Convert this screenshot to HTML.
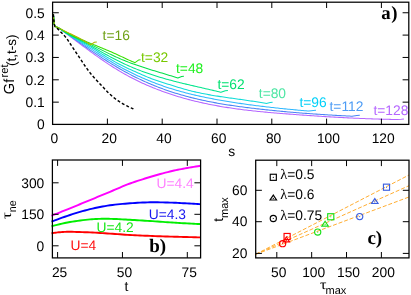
<!DOCTYPE html>
<html><head><meta charset="utf-8"><title>fig</title>
<style>
html,body{margin:0;padding:0;background:#fff;}
body{width:411px;height:295px;overflow:hidden;font-family:"Liberation Sans",sans-serif;}
svg{display:block;will-change:transform;opacity:0.999;text-rendering:geometricPrecision;}
</style></head><body>
<svg width="411" height="295" viewBox="0 0 411 295">
<rect x="0" y="0" width="411" height="295" fill="#fff"/>
<path d="M53.40,14.20 L53.90,21.00 L54.20,24.00 L54.80,26.00 L56.00,26.70 L60.00,28.89 L61.50,30.00 L63.00,31.12 L64.50,32.24 L66.00,33.36 L67.50,34.49 L69.00,35.61 L70.50,36.74 L72.00,37.86 L73.50,38.99 L75.00,40.12 L76.50,41.24 L78.00,42.37 L79.50,43.49 L81.00,44.61 L82.50,45.73 L84.00,46.84 L85.50,47.95 L87.00,49.05 L88.50,50.15 L90.00,51.25 L91.50,52.34 L93.00,53.42 L94.50,54.50 L96.00,55.57 L97.50,56.64 L99.00,57.69 L100.50,58.74 L102.00,59.78 L103.50,60.80 L105.00,61.82 L106.50,62.83 L108.00,63.83 L109.50,64.82 L111.00,65.79 L112.50,66.76 L114.00,67.71 L115.50,68.64 L117.00,69.57 L118.50,70.48 L120.00,71.38 L121.50,72.26 L123.00,73.12 L124.50,73.98 L126.00,74.81 L127.50,75.64 L129.00,76.45 L130.50,77.24 L132.00,78.03 L133.50,78.80 L135.00,79.55 L136.50,80.30 L138.00,81.03 L139.50,81.75 L141.00,82.45 L142.50,83.15 L144.00,83.83 L145.50,84.50 L147.00,85.16 L148.50,85.81 L150.00,86.44 L151.50,87.07 L153.00,87.68 L154.50,88.29 L156.00,88.88 L157.50,89.47 L159.00,90.04 L160.50,90.61 L162.00,91.16 L163.50,91.70 L165.00,92.24 L166.50,92.77 L168.00,93.28 L169.50,93.79 L171.00,94.29 L172.50,94.78 L174.00,95.26 L175.50,95.74 L177.00,96.20 L178.50,96.66 L180.00,97.10 L181.50,97.54 L183.00,97.98 L184.50,98.40 L186.00,98.81 L187.50,99.22 L189.00,99.62 L190.50,100.01 L192.00,100.40 L193.50,100.77 L195.00,101.14 L196.50,101.51 L198.00,101.86 L199.50,102.21 L201.00,102.55 L202.50,102.88 L204.00,103.21 L205.50,103.53 L207.00,103.85 L208.50,104.16 L210.00,104.46 L211.50,104.75 L213.00,105.04 L214.50,105.33 L216.00,105.60 L217.50,105.88 L219.00,106.14 L220.50,106.40 L222.00,106.66 L223.50,106.91 L225.00,107.15 L226.50,107.39 L228.00,107.63 L229.50,107.85 L231.00,108.08 L232.50,108.30 L234.00,108.51 L235.50,108.72 L237.00,108.93 L238.50,109.13 L240.00,109.33 L241.50,109.52 L243.00,109.71 L244.50,109.90 L246.00,110.08 L247.50,110.25 L249.00,110.43 L250.50,110.60 L252.00,110.76 L253.50,110.93 L255.00,111.09 L256.50,111.25 L258.00,111.40 L259.50,111.55 L261.00,111.70 L262.50,111.85 L264.00,111.99 L265.50,112.13 L267.00,112.27 L268.50,112.40 L270.00,112.54 L271.50,112.67 L273.00,112.80 L274.50,112.92 L276.00,113.05 L277.50,113.17 L279.00,113.30 L280.50,113.42 L282.00,113.54 L283.50,113.66 L285.00,113.77 L286.50,113.89 L288.00,114.01 L289.50,114.12 L291.00,114.23 L292.50,114.35 L294.00,114.46 L295.50,114.57 L297.00,114.68 L298.50,114.79 L300.00,114.90 L301.50,115.01 L303.00,115.11 L304.50,115.22 L306.00,115.32 L307.50,115.43 L309.00,115.53 L310.50,115.64 L312.00,115.74 L313.50,115.84 L315.00,115.94 L316.50,116.04 L318.00,116.13 L319.50,116.23 L321.00,116.33 L322.50,116.42 L324.00,116.52 L325.50,116.61 L327.00,116.70 L328.50,116.79 L330.00,116.88 L331.50,116.97 L333.00,117.05 L334.50,117.14 L336.00,117.23 L337.50,117.31 L339.00,117.39 L340.50,117.47 L342.00,117.55 L343.50,117.63 L345.00,117.71 L346.50,117.78 L348.00,117.86 L349.50,117.93 L351.00,118.00 L352.50,118.08 L354.00,118.15 L355.50,118.21 L357.00,118.28 L358.50,118.35 L360.00,118.41 L361.50,118.47 L363.00,118.53 L364.50,118.59 L366.00,118.65 L367.50,118.71 L369.00,118.76 L370.50,118.82 L372.00,118.87 L373.50,118.92 L375.00,118.97 L376.50,119.02 L378.00,119.06 L379.50,119.11 L381.00,119.15 L382.50,119.19 L384.00,119.23 L385.50,119.27 L387.00,119.30 L388.50,119.34 L390.00,119.37 L391.50,119.40 L393.00,119.43 L394.50,119.46 L396.00,119.48 L397.00,119.50 L401.34,119.30 L404.00,119.00" fill="none" stroke="#b566ff" stroke-width="1.05" stroke-linejoin="round" />
<path d="M53.40,14.20 L53.90,21.00 L54.20,24.00 L54.80,26.00 L56.00,26.70 L60.00,28.80 L61.50,29.85 L63.00,30.91 L64.50,31.96 L66.00,33.02 L67.50,34.08 L69.00,35.14 L70.50,36.20 L72.00,37.26 L73.50,38.32 L75.00,39.38 L76.50,40.44 L78.00,41.49 L79.50,42.55 L81.00,43.60 L82.50,44.65 L84.00,45.69 L85.50,46.74 L87.00,47.78 L88.50,48.81 L90.00,49.84 L91.50,50.87 L93.00,51.89 L94.50,52.90 L96.00,53.91 L97.50,54.91 L99.00,55.91 L100.50,56.89 L102.00,57.88 L103.50,58.85 L105.00,59.81 L106.50,60.77 L108.00,61.71 L109.50,62.65 L111.00,63.58 L112.50,64.50 L114.00,65.40 L115.50,66.30 L117.00,67.18 L118.50,68.06 L120.00,68.92 L121.50,69.77 L123.00,70.61 L124.50,71.44 L126.00,72.26 L127.50,73.06 L129.00,73.86 L130.50,74.64 L132.00,75.42 L133.50,76.18 L135.00,76.93 L136.50,77.67 L138.00,78.40 L139.50,79.12 L141.00,79.82 L142.50,80.52 L144.00,81.21 L145.50,81.88 L147.00,82.54 L148.50,83.19 L150.00,83.83 L151.50,84.46 L153.00,85.08 L154.50,85.69 L156.00,86.29 L157.50,86.87 L159.00,87.45 L160.50,88.02 L162.00,88.57 L163.50,89.12 L165.00,89.65 L166.50,90.18 L168.00,90.69 L169.50,91.20 L171.00,91.70 L172.50,92.19 L174.00,92.67 L175.50,93.14 L177.00,93.60 L178.50,94.05 L180.00,94.49 L181.50,94.93 L183.00,95.36 L184.50,95.77 L186.00,96.18 L187.50,96.59 L189.00,96.98 L190.50,97.37 L192.00,97.75 L193.50,98.12 L195.00,98.49 L196.50,98.84 L198.00,99.19 L199.50,99.54 L201.00,99.87 L202.50,100.20 L204.00,100.53 L205.50,100.84 L207.00,101.15 L208.50,101.46 L210.00,101.76 L211.50,102.05 L213.00,102.34 L214.50,102.62 L216.00,102.89 L217.50,103.16 L219.00,103.43 L220.50,103.69 L222.00,103.94 L223.50,104.19 L225.00,104.43 L226.50,104.67 L228.00,104.91 L229.50,105.14 L231.00,105.37 L232.50,105.59 L234.00,105.81 L235.50,106.03 L237.00,106.24 L238.50,106.44 L240.00,106.65 L241.50,106.85 L243.00,107.05 L244.50,107.24 L246.00,107.43 L247.50,107.62 L249.00,107.81 L250.50,107.99 L252.00,108.17 L253.50,108.35 L255.00,108.53 L256.50,108.70 L258.00,108.87 L259.50,109.04 L261.00,109.21 L262.50,109.38 L264.00,109.54 L265.50,109.70 L267.00,109.86 L268.50,110.02 L270.00,110.18 L271.50,110.33 L273.00,110.48 L274.50,110.63 L276.00,110.78 L277.50,110.93 L279.00,111.07 L280.50,111.22 L282.00,111.36 L283.50,111.50 L285.00,111.63 L286.50,111.77 L288.00,111.90 L289.50,112.04 L291.00,112.17 L292.50,112.30 L294.00,112.42 L295.50,112.55 L297.00,112.67 L298.50,112.79 L300.00,112.91 L301.50,113.03 L303.00,113.15 L304.50,113.27 L306.00,113.38 L307.50,113.49 L309.00,113.60 L310.50,113.71 L312.00,113.82 L313.50,113.93 L315.00,114.03 L316.50,114.14 L318.00,114.24 L319.50,114.34 L321.00,114.44 L322.50,114.54 L324.00,114.63 L325.50,114.73 L327.00,114.82 L328.50,114.91 L330.00,115.01 L331.50,115.10 L333.00,115.18 L334.50,115.27 L336.00,115.36 L337.50,115.44 L339.00,115.53 L340.50,115.61 L342.00,115.69 L343.50,115.77 L345.00,115.85 L346.50,115.92 L348.00,116.00 L349.50,116.08 L351.00,116.15 L352.00,116.20 L356.84,115.60 L359.80,115.30" fill="none" stroke="#4a84f5" stroke-width="1.05" stroke-linejoin="round" />
<path d="M53.40,14.20 L53.90,21.00 L54.20,24.00 L54.80,26.00 L56.00,26.70 L60.00,28.81 L61.50,29.87 L63.00,30.91 L64.50,31.93 L66.00,32.94 L67.50,33.93 L69.00,34.91 L70.50,35.88 L72.00,36.84 L73.50,37.80 L75.00,38.74 L76.50,39.69 L78.00,40.62 L79.50,41.56 L81.00,42.50 L82.50,43.44 L84.00,44.38 L85.50,45.33 L87.00,46.29 L88.50,47.25 L90.00,48.21 L91.50,49.18 L93.00,50.15 L94.50,51.12 L96.00,52.09 L97.50,53.06 L99.00,54.03 L100.50,54.99 L102.00,55.95 L103.50,56.91 L105.00,57.86 L106.50,58.80 L108.00,59.73 L109.50,60.66 L111.00,61.57 L112.50,62.48 L114.00,63.37 L115.50,64.25 L117.00,65.12 L118.50,65.97 L120.00,66.81 L121.50,67.63 L123.00,68.44 L124.50,69.24 L126.00,70.03 L127.50,70.81 L129.00,71.57 L130.50,72.32 L132.00,73.06 L133.50,73.79 L135.00,74.50 L136.50,75.21 L138.00,75.90 L139.50,76.59 L141.00,77.26 L142.50,77.92 L144.00,78.58 L145.50,79.22 L147.00,79.85 L148.50,80.47 L150.00,81.08 L151.50,81.68 L153.00,82.27 L154.50,82.85 L156.00,83.43 L157.50,83.99 L159.00,84.54 L160.50,85.08 L162.00,85.61 L163.50,86.14 L165.00,86.65 L166.50,87.15 L168.00,87.65 L169.50,88.13 L171.00,88.61 L172.50,89.08 L174.00,89.54 L175.50,89.99 L177.00,90.43 L178.50,90.86 L180.00,91.29 L181.50,91.70 L183.00,92.11 L184.50,92.51 L186.00,92.91 L187.50,93.29 L189.00,93.67 L190.50,94.04 L192.00,94.41 L193.50,94.76 L195.00,95.12 L196.50,95.46 L198.00,95.80 L199.50,96.13 L201.00,96.46 L202.50,96.78 L204.00,97.10 L205.50,97.41 L207.00,97.71 L208.50,98.01 L210.00,98.31 L211.50,98.60 L213.00,98.89 L214.50,99.17 L216.00,99.44 L217.50,99.72 L219.00,99.99 L220.50,100.25 L222.00,100.51 L223.50,100.77 L225.00,101.03 L226.50,101.28 L228.00,101.53 L229.50,101.77 L231.00,102.01 L232.50,102.25 L234.00,102.49 L235.50,102.72 L237.00,102.95 L238.50,103.17 L240.00,103.39 L241.50,103.61 L243.00,103.83 L244.50,104.04 L246.00,104.25 L247.50,104.46 L249.00,104.67 L250.50,104.87 L252.00,105.07 L253.50,105.27 L255.00,105.46 L256.50,105.65 L258.00,105.84 L259.50,106.03 L261.00,106.21 L262.50,106.39 L264.00,106.57 L265.50,106.75 L267.00,106.93 L268.50,107.10 L270.00,107.27 L271.50,107.44 L273.00,107.60 L274.50,107.77 L276.00,107.93 L277.50,108.09 L279.00,108.25 L280.50,108.41 L282.00,108.56 L283.50,108.72 L285.00,108.87 L286.50,109.02 L288.00,109.17 L289.50,109.31 L291.00,109.46 L292.50,109.60 L294.00,109.75 L295.50,109.89 L297.00,110.03 L298.50,110.17 L300.00,110.30 L301.50,110.44 L303.00,110.57 L304.50,110.71 L306.00,110.84 L307.50,110.97 L309.00,111.10 L313.34,110.60 L316.00,110.30" fill="none" stroke="#30b8ff" stroke-width="1.05" stroke-linejoin="round" />
<path d="M53.40,14.20 L53.90,21.00 L54.20,24.00 L54.80,26.00 L56.00,26.70 L60.00,28.70 L61.50,29.86 L63.00,30.96 L64.50,32.01 L66.00,33.01 L67.50,33.98 L69.00,34.90 L70.50,35.80 L72.00,36.66 L73.50,37.51 L75.00,38.34 L76.50,39.15 L78.00,39.96 L79.50,40.76 L81.00,41.57 L82.50,42.38 L84.00,43.20 L85.50,44.04 L87.00,44.90 L88.50,45.77 L90.00,46.66 L91.50,47.56 L93.00,48.48 L94.50,49.40 L96.00,50.32 L97.50,51.26 L99.00,52.19 L100.50,53.13 L102.00,54.07 L103.50,55.00 L105.00,55.93 L106.50,56.85 L108.00,57.76 L109.50,58.66 L111.00,59.55 L112.50,60.42 L114.00,61.28 L115.50,62.12 L117.00,62.94 L118.50,63.74 L120.00,64.52 L121.50,65.29 L123.00,66.04 L124.50,66.77 L126.00,67.49 L127.50,68.20 L129.00,68.90 L130.50,69.59 L132.00,70.27 L133.50,70.94 L135.00,71.60 L136.50,72.26 L138.00,72.92 L139.50,73.58 L141.00,74.25 L142.50,74.91 L144.00,75.57 L145.50,76.22 L147.00,76.86 L148.50,77.49 L150.00,78.09 L151.50,78.68 L153.00,79.24 L154.50,79.78 L156.00,80.31 L157.50,80.82 L159.00,81.32 L160.50,81.81 L162.00,82.29 L163.50,82.77 L165.00,83.23 L166.50,83.70 L168.00,84.16 L169.50,84.62 L171.00,85.09 L172.50,85.55 L174.00,86.02 L175.50,86.49 L177.00,86.95 L178.50,87.42 L180.00,87.87 L181.50,88.32 L183.00,88.76 L184.50,89.19 L186.00,89.60 L187.50,90.01 L189.00,90.40 L190.50,90.79 L192.00,91.16 L193.50,91.52 L195.00,91.87 L196.50,92.21 L198.00,92.54 L199.50,92.86 L201.00,93.18 L202.50,93.48 L204.00,93.78 L205.50,94.07 L207.00,94.35 L208.50,94.62 L210.00,94.89 L211.50,95.15 L213.00,95.41 L214.50,95.66 L216.00,95.90 L217.50,96.14 L219.00,96.38 L220.50,96.61 L222.00,96.84 L223.50,97.06 L225.00,97.28 L226.50,97.50 L228.00,97.71 L229.50,97.93 L231.00,98.14 L232.50,98.35 L234.00,98.56 L235.50,98.77 L237.00,98.98 L238.50,99.18 L240.00,99.39 L241.50,99.60 L243.00,99.81 L244.50,100.03 L246.00,100.24 L247.50,100.46 L249.00,100.67 L250.50,100.90 L252.00,101.12 L253.50,101.35 L255.00,101.58 L256.50,101.82 L258.00,102.06 L259.50,102.31 L261.00,102.56 L262.50,102.82 L264.00,103.08 L265.50,103.35 L266.30,103.50 L270.21,102.60 L272.60,102.30" fill="none" stroke="#10dcd8" stroke-width="1.05" stroke-linejoin="round" />
<path d="M53.40,14.20 L53.90,21.00 L54.20,24.00 L54.80,26.00 L56.00,26.70 L60.00,28.71 L61.50,29.84 L63.00,30.90 L64.50,31.90 L66.00,32.85 L67.50,33.75 L69.00,34.61 L70.50,35.43 L72.00,36.22 L73.50,36.99 L75.00,37.74 L76.50,38.48 L78.00,39.21 L79.50,39.94 L81.00,40.67 L82.50,41.41 L84.00,42.16 L85.50,42.94 L87.00,43.73 L88.50,44.55 L90.00,45.38 L91.50,46.22 L93.00,47.08 L94.50,47.94 L96.00,48.80 L97.50,49.67 L99.00,50.53 L100.50,51.39 L102.00,52.24 L103.50,53.09 L105.00,53.92 L106.50,54.75 L108.00,55.57 L109.50,56.38 L111.00,57.18 L112.50,57.97 L114.00,58.75 L115.50,59.52 L117.00,60.29 L118.50,61.04 L120.00,61.78 L121.50,62.51 L123.00,63.23 L124.50,63.93 L126.00,64.63 L127.50,65.31 L129.00,65.98 L130.50,66.63 L132.00,67.28 L133.50,67.91 L135.00,68.53 L136.50,69.13 L138.00,69.73 L139.50,70.31 L141.00,70.88 L142.50,71.44 L144.00,71.99 L145.50,72.53 L147.00,73.06 L148.50,73.58 L150.00,74.09 L151.50,74.59 L153.00,75.08 L154.50,75.56 L156.00,76.03 L157.50,76.50 L159.00,76.95 L160.50,77.40 L162.00,77.84 L163.50,78.28 L165.00,78.70 L166.50,79.13 L168.00,79.54 L169.50,79.95 L171.00,80.35 L172.50,80.75 L174.00,81.14 L175.50,81.53 L177.00,81.91 L178.50,82.29 L180.00,82.66 L181.50,83.03 L183.00,83.39 L184.50,83.76 L186.00,84.12 L187.50,84.47 L189.00,84.83 L190.50,85.18 L192.00,85.53 L193.50,85.88 L195.00,86.23 L196.50,86.57 L198.00,86.92 L199.50,87.26 L201.00,87.60 L202.50,87.95 L204.00,88.29 L205.50,88.64 L207.00,88.98 L208.50,89.33 L210.00,89.68 L211.50,90.03 L213.00,90.38 L214.50,90.74 L216.00,91.09 L217.50,91.45 L219.00,91.81 L220.50,92.18 L221.00,92.30 L225.28,90.80 L227.90,90.50" fill="none" stroke="#00e68c" stroke-width="1.05" stroke-linejoin="round" />
<path d="M53.40,14.20 L53.90,21.00 L54.20,24.00 L54.80,26.00 L56.00,26.70 L60.00,28.61 L61.50,29.67 L63.00,30.67 L64.50,31.62 L66.00,32.53 L67.50,33.39 L69.00,34.21 L70.50,34.99 L72.00,35.75 L73.50,36.48 L75.00,37.19 L76.50,37.88 L78.00,38.57 L79.50,39.24 L81.00,39.91 L82.50,40.59 L84.00,41.27 L85.50,41.96 L87.00,42.67 L88.50,43.39 L90.00,44.12 L91.50,44.85 L93.00,45.60 L94.50,46.35 L96.00,47.10 L97.50,47.86 L99.00,48.62 L100.50,49.38 L102.00,50.14 L103.50,50.89 L105.00,51.64 L106.50,52.39 L108.00,53.13 L109.50,53.86 L111.00,54.58 L112.50,55.30 L114.00,56.01 L115.50,56.70 L117.00,57.39 L118.50,58.06 L120.00,58.71 L121.50,59.36 L123.00,59.99 L124.50,60.60 L126.00,61.20 L127.50,61.79 L129.00,62.37 L130.50,62.94 L132.00,63.49 L133.50,64.04 L135.00,64.57 L136.50,65.10 L138.00,65.61 L139.50,66.12 L141.00,66.62 L142.50,67.12 L144.00,67.60 L145.50,68.08 L147.00,68.56 L148.50,69.03 L150.00,69.50 L151.50,69.96 L153.00,70.42 L154.50,70.87 L156.00,71.32 L157.50,71.77 L159.00,72.22 L160.50,72.67 L162.00,73.12 L163.50,73.57 L165.00,74.02 L166.50,74.47 L168.00,74.92 L169.50,75.38 L171.00,75.84 L172.50,76.30 L174.00,76.77 L175.50,77.24 L177.00,77.71 L177.90,78.00 L181.62,76.60 L183.90,76.30" fill="none" stroke="#00e048" stroke-width="1.05" stroke-linejoin="round" />
<path d="M53.40,14.20 L53.90,21.00 L54.20,24.00 L54.80,26.00 L56.00,26.70 L60.00,28.61 L61.50,29.49 L63.00,30.35 L64.50,31.19 L66.00,32.01 L67.50,32.81 L69.00,33.59 L70.50,34.35 L72.00,35.10 L73.50,35.83 L75.00,36.55 L76.50,37.25 L78.00,37.94 L79.50,38.62 L81.00,39.29 L82.50,39.95 L84.00,40.60 L85.50,41.24 L87.00,41.88 L88.50,42.51 L90.00,43.13 L91.50,43.75 L93.00,44.37 L94.50,44.98 L96.00,45.59 L97.50,46.20 L99.00,46.82 L100.50,47.43 L102.00,48.04 L103.50,48.66 L105.00,49.29 L106.50,49.91 L108.00,50.55 L109.50,51.19 L111.00,51.84 L112.50,52.50 L114.00,53.16 L115.50,53.84 L117.00,54.53 L118.50,55.23 L120.00,55.93 L121.50,56.63 L123.00,57.34 L124.50,58.04 L126.00,58.74 L127.50,59.43 L129.00,60.11 L130.50,60.79 L132.00,61.44 L133.50,62.08 L135.00,62.70 L138.47,60.10 L140.60,59.80" fill="none" stroke="#38e000" stroke-width="1.05" stroke-linejoin="round" />
<path d="M53.40,14.20 L53.90,21.00 L54.20,24.00 L54.80,26.00 L56.00,26.70 L60.00,28.60 L61.50,29.38 L63.00,30.15 L64.50,30.90 L66.00,31.64 L67.50,32.38 L69.00,33.11 L70.50,33.84 L72.00,34.57 L73.50,35.31 L75.00,36.05 L76.50,36.80 L78.00,37.56 L79.50,38.34 L81.00,39.14 L82.50,39.97 L84.00,40.81 L85.50,41.69 L87.00,42.59 L88.50,43.53 L90.00,44.50 L90.60,44.90 L94.44,42.30 L96.80,42.00" fill="none" stroke="#b4b400" stroke-width="1.05" stroke-linejoin="round" />
<path d="M53.40,14.20 L53.44,14.74 L53.48,15.46 L53.53,16.33 L53.59,17.29 L53.66,18.28 L53.74,19.27 L53.81,20.19 L53.90,21.00 L53.99,21.73 L54.08,22.46 L54.17,23.16 L54.27,23.82 L54.39,24.45 L54.51,25.03 L54.65,25.55 L54.80,26.00 L54.96,26.35 L55.13,26.60 L55.31,26.77 L55.51,26.91 L55.72,27.02 L55.95,27.16 L56.21,27.34 L56.50,27.60 L56.81,27.91 L57.13,28.24 L57.47,28.58 L57.83,28.96 L58.23,29.37 L58.67,29.82 L59.16,30.33 L59.70,30.90 L60.32,31.54 L61.03,32.25 L61.80,33.02 L62.61,33.83 L63.42,34.67 L64.23,35.52 L64.99,36.37 L65.70,37.20 L66.35,38.02 L66.97,38.86 L67.56,39.70 L68.13,40.55 L68.69,41.41 L69.26,42.27 L69.82,43.13 L70.40,44.00 L70.99,44.87 L71.57,45.75 L72.16,46.64 L72.74,47.53 L73.33,48.42 L73.92,49.32 L74.51,50.21 L75.10,51.10 L75.70,51.99 L76.30,52.88 L76.90,53.76 L77.50,54.65 L78.10,55.54 L78.70,56.43 L79.30,57.31 L79.90,58.20 L80.48,59.08 L81.05,59.95 L81.62,60.82 L82.18,61.69 L82.75,62.56 L83.34,63.45 L83.96,64.36 L84.60,65.30 L85.28,66.28 L86.00,67.30 L86.75,68.36 L87.51,69.42 L88.28,70.47 L89.04,71.50 L89.78,72.48 L90.50,73.40 L91.19,74.25 L91.85,75.04 L92.50,75.79 L93.14,76.51 L93.79,77.21 L94.44,77.92 L95.11,78.65 L95.80,79.40 L96.51,80.18 L97.23,80.95 L97.96,81.74 L98.71,82.53 L99.46,83.32 L100.23,84.13 L101.01,84.96 L101.80,85.80 L102.61,86.67 L103.45,87.58 L104.30,88.50 L105.16,89.44 L106.02,90.37 L106.89,91.28 L107.75,92.16 L108.60,93.00 L109.44,93.80 L110.28,94.58 L111.12,95.33 L111.95,96.07 L112.78,96.78 L113.62,97.47 L114.46,98.15 L115.30,98.80 L116.15,99.43 L116.99,100.04 L117.84,100.62 L118.69,101.19 L119.55,101.74 L120.40,102.27 L121.25,102.79 L122.10,103.30 L122.97,103.80 L123.85,104.30 L124.75,104.79 L125.64,105.26 L126.52,105.71 L127.36,106.13 L128.16,106.53 L128.90,106.90 L129.60,107.24 L130.29,107.56 L130.95,107.86 L131.58,108.13 L132.14,108.37 L132.65,108.58 L133.07,108.76 L133.40,108.90" fill="none" stroke="#000" stroke-width="1.45" stroke-linejoin="round" stroke-dasharray="2.9 2.1"/>
<rect x="52.6" y="2.2" width="356.20" height="122.20" fill="none" stroke="#000" stroke-width="1.25"/>
<line x1="52.60" y1="102.15" x2="58.80" y2="102.15" stroke="#000" stroke-width="1" />
<line x1="402.60" y1="102.15" x2="408.80" y2="102.15" stroke="#000" stroke-width="1" />
<line x1="52.60" y1="79.80" x2="58.80" y2="79.80" stroke="#000" stroke-width="1" />
<line x1="402.60" y1="79.80" x2="408.80" y2="79.80" stroke="#000" stroke-width="1" />
<line x1="52.60" y1="57.45" x2="58.80" y2="57.45" stroke="#000" stroke-width="1" />
<line x1="402.60" y1="57.45" x2="408.80" y2="57.45" stroke="#000" stroke-width="1" />
<line x1="52.60" y1="35.10" x2="58.80" y2="35.10" stroke="#000" stroke-width="1" />
<line x1="402.60" y1="35.10" x2="408.80" y2="35.10" stroke="#000" stroke-width="1" />
<line x1="52.60" y1="12.75" x2="58.80" y2="12.75" stroke="#000" stroke-width="1" />
<line x1="402.60" y1="12.75" x2="408.80" y2="12.75" stroke="#000" stroke-width="1" />
<line x1="107.40" y1="124.40" x2="107.40" y2="118.60" stroke="#000" stroke-width="1" />
<line x1="107.40" y1="2.20" x2="107.40" y2="8.00" stroke="#000" stroke-width="1" />
<line x1="162.20" y1="124.40" x2="162.20" y2="118.60" stroke="#000" stroke-width="1" />
<line x1="162.20" y1="2.20" x2="162.20" y2="8.00" stroke="#000" stroke-width="1" />
<line x1="217.00" y1="124.40" x2="217.00" y2="118.60" stroke="#000" stroke-width="1" />
<line x1="217.00" y1="2.20" x2="217.00" y2="8.00" stroke="#000" stroke-width="1" />
<line x1="271.80" y1="124.40" x2="271.80" y2="118.60" stroke="#000" stroke-width="1" />
<line x1="271.80" y1="2.20" x2="271.80" y2="8.00" stroke="#000" stroke-width="1" />
<line x1="326.60" y1="124.40" x2="326.60" y2="118.60" stroke="#000" stroke-width="1" />
<line x1="326.60" y1="2.20" x2="326.60" y2="8.00" stroke="#000" stroke-width="1" />
<line x1="381.40" y1="124.40" x2="381.40" y2="118.60" stroke="#000" stroke-width="1" />
<line x1="381.40" y1="2.20" x2="381.40" y2="8.00" stroke="#000" stroke-width="1" />
<text x="44.80" y="129.30" text-anchor="end" fill="#000" font-size="13.8px" style="font-family:'Liberation Sans'" >0</text>
<text x="44.80" y="106.95" text-anchor="end" fill="#000" font-size="13.8px" style="font-family:'Liberation Sans'" >0.1</text>
<text x="44.80" y="84.60" text-anchor="end" fill="#000" font-size="13.8px" style="font-family:'Liberation Sans'" >0.2</text>
<text x="44.80" y="62.25" text-anchor="end" fill="#000" font-size="13.8px" style="font-family:'Liberation Sans'" >0.3</text>
<text x="44.80" y="39.90" text-anchor="end" fill="#000" font-size="13.8px" style="font-family:'Liberation Sans'" >0.4</text>
<text x="44.80" y="17.55" text-anchor="end" fill="#000" font-size="13.8px" style="font-family:'Liberation Sans'" >0.5</text>
<text x="54.40" y="142.80" text-anchor="middle" fill="#000" font-size="13.8px" style="font-family:'Liberation Sans'" >0</text>
<text x="109.20" y="142.80" text-anchor="middle" fill="#000" font-size="13.8px" style="font-family:'Liberation Sans'" >20</text>
<text x="164.00" y="142.80" text-anchor="middle" fill="#000" font-size="13.8px" style="font-family:'Liberation Sans'" >40</text>
<text x="218.80" y="142.80" text-anchor="middle" fill="#000" font-size="13.8px" style="font-family:'Liberation Sans'" >60</text>
<text x="273.60" y="142.80" text-anchor="middle" fill="#000" font-size="13.8px" style="font-family:'Liberation Sans'" >80</text>
<text x="328.40" y="142.80" text-anchor="middle" fill="#000" font-size="13.8px" style="font-family:'Liberation Sans'" >100</text>
<text x="383.20" y="142.80" text-anchor="middle" fill="#000" font-size="13.8px" style="font-family:'Liberation Sans'" >120</text>
<text x="228.30" y="156.10" text-anchor="start" fill="#000" font-size="13.8px" style="font-family:'Liberation Sans'" >s</text>
<text x="381.30" y="19.40" text-anchor="start" fill="#000" font-size="18.8px" style="font-family:'Liberation Serif'" font-weight="bold" letter-spacing="0.5">a)</text>
<text x="102.60" y="39.80" text-anchor="start" fill="#6ea014" font-size="13.8px" style="font-family:'Liberation Sans'" >t=16</text>
<text x="141.00" y="61.90" text-anchor="start" fill="#78c800" font-size="13.8px" style="font-family:'Liberation Sans'" >t=32</text>
<text x="176.00" y="73.00" text-anchor="start" fill="#20f020" font-size="13.8px" style="font-family:'Liberation Sans'" >t=48</text>
<text x="217.40" y="88.70" text-anchor="start" fill="#00e070" font-size="13.8px" style="font-family:'Liberation Sans'" >t=62</text>
<text x="258.80" y="97.70" text-anchor="start" fill="#4ee6a4" font-size="13.8px" style="font-family:'Liberation Sans'" >t=80</text>
<text x="299.40" y="107.40" text-anchor="start" fill="#00d0f8" font-size="13.8px" style="font-family:'Liberation Sans'" >t=96</text>
<text x="329.50" y="111.00" text-anchor="start" fill="#4d9cf5" font-size="13.8px" style="font-family:'Liberation Sans'" >t=112</text>
<text x="373.40" y="115.20" text-anchor="start" fill="#b566ff" font-size="13.8px" style="font-family:'Liberation Sans'" >t=128</text>
<g transform="translate(14.3,94.2) rotate(-90)" fill="#000" style="font-family:'Liberation Sans'"><text x="0" y="0" font-size="14.6px">Gf</text><text x="16.6" y="-6.1" font-size="11.3px">ret</text><text x="28.2" y="1.3" font-size="13.5px">(t,t-s)</text></g>
<clipPath id="cb"><rect x="50.4" y="160.0" width="151.20" height="97.90"/></clipPath>
<path d="M51.50,215.80 L52.92,215.23 L54.79,214.47 L57.02,213.57 L59.50,212.56 L62.14,211.49 L64.84,210.40 L67.49,209.32 L70.00,208.30 L72.43,207.31 L74.89,206.30 L77.39,205.28 L79.91,204.25 L82.43,203.21 L84.96,202.17 L87.49,201.13 L90.00,200.10 L92.50,199.07 L95.00,198.03 L97.50,196.99 L100.00,195.96 L102.50,194.92 L105.00,193.88 L107.50,192.84 L110.00,191.80 L112.50,190.75 L115.00,189.68 L117.50,188.61 L120.00,187.54 L122.50,186.48 L125.00,185.45 L127.50,184.45 L130.00,183.50 L132.50,182.59 L135.00,181.73 L137.50,180.89 L140.00,180.07 L142.50,179.29 L145.00,178.51 L147.50,177.75 L150.00,177.00 L152.53,176.25 L155.12,175.50 L157.72,174.76 L160.31,174.04 L162.87,173.34 L165.35,172.68 L167.74,172.07 L170.00,171.50 L172.11,170.99 L174.09,170.54 L175.96,170.14 L177.78,169.77 L179.55,169.42 L181.33,169.08 L183.13,168.75 L185.00,168.40 L187.03,168.03 L189.22,167.65 L191.49,167.27 L193.74,166.91 L195.87,166.56 L197.78,166.26 L199.39,166.00 L200.60,165.80" fill="none" stroke="#ff00ff" stroke-width="1.9" stroke-linejoin="round" stroke-linecap="butt"/>
<path d="M51.50,221.60 L52.92,221.09 L54.79,220.40 L57.02,219.57 L59.50,218.66 L62.14,217.71 L64.84,216.75 L67.49,215.83 L70.00,215.00 L72.43,214.22 L74.89,213.45 L77.39,212.68 L79.91,211.93 L82.43,211.20 L84.96,210.50 L87.49,209.83 L90.00,209.20 L92.50,208.61 L95.00,208.05 L97.50,207.51 L100.00,207.01 L102.50,206.54 L105.00,206.10 L107.50,205.68 L110.00,205.30 L112.50,204.95 L115.00,204.64 L117.50,204.37 L120.00,204.12 L122.50,203.89 L125.00,203.69 L127.50,203.49 L130.00,203.30 L132.50,203.12 L135.00,202.95 L137.50,202.79 L140.00,202.66 L142.50,202.54 L145.00,202.44 L147.50,202.36 L150.00,202.30 L152.53,202.27 L155.12,202.27 L157.72,202.30 L160.31,202.34 L162.87,202.40 L165.35,202.47 L167.74,202.53 L170.00,202.60 L172.11,202.67 L174.09,202.74 L175.97,202.82 L177.78,202.91 L179.56,203.01 L181.33,203.10 L183.14,203.20 L185.00,203.30 L187.02,203.41 L189.20,203.53 L191.46,203.66 L193.69,203.79 L195.80,203.92 L197.70,204.03 L199.30,204.13 L200.50,204.20" fill="none" stroke="#0000ff" stroke-width="1.9" stroke-linejoin="round" stroke-linecap="butt"/>
<path d="M51.50,226.20 L52.92,225.87 L54.79,225.41 L57.02,224.86 L59.50,224.26 L62.14,223.64 L64.84,223.04 L67.49,222.48 L70.00,222.00 L72.48,221.58 L75.06,221.19 L77.70,220.82 L80.34,220.48 L82.95,220.16 L85.46,219.87 L87.82,219.62 L90.00,219.40 L91.97,219.22 L93.77,219.09 L95.43,218.99 L97.00,218.93 L98.51,218.88 L99.98,218.85 L101.47,218.82 L103.00,218.80 L104.53,218.78 L106.00,218.78 L107.44,218.79 L108.88,218.81 L110.32,218.85 L111.81,218.89 L113.36,218.94 L115.00,219.00 L116.70,219.07 L118.42,219.15 L120.19,219.24 L122.00,219.34 L123.88,219.44 L125.83,219.56 L127.87,219.68 L130.00,219.80 L132.26,219.93 L134.65,220.07 L137.13,220.21 L139.69,220.36 L142.28,220.52 L144.88,220.68 L147.47,220.84 L150.00,221.00 L152.53,221.17 L155.12,221.35 L157.72,221.53 L160.31,221.72 L162.87,221.90 L165.35,222.08 L167.74,222.25 L170.00,222.40 L172.11,222.54 L174.09,222.66 L175.97,222.78 L177.78,222.89 L179.56,222.99 L181.33,223.09 L183.14,223.20 L185.00,223.30 L187.02,223.41 L189.20,223.53 L191.46,223.64 L193.69,223.76 L195.80,223.86 L197.70,223.96 L199.30,224.04 L200.50,224.10" fill="none" stroke="#00ee00" stroke-width="1.9" stroke-linejoin="round" stroke-linecap="butt"/>
<path d="M51.50,233.20 L52.15,233.12 L52.99,233.01 L54.00,232.87 L55.12,232.72 L56.33,232.57 L57.57,232.43 L58.81,232.30 L60.00,232.20 L61.11,232.11 L62.16,232.03 L63.20,231.96 L64.28,231.90 L65.45,231.85 L66.76,231.82 L68.26,231.80 L70.00,231.80 L72.02,231.82 L74.30,231.87 L76.77,231.93 L79.38,232.00 L82.06,232.09 L84.77,232.18 L87.43,232.29 L90.00,232.40 L92.50,232.52 L95.00,232.65 L97.50,232.80 L100.00,232.95 L102.50,233.11 L105.00,233.27 L107.50,233.44 L110.00,233.60 L112.50,233.77 L115.00,233.95 L117.50,234.13 L120.00,234.32 L122.50,234.50 L125.00,234.68 L127.50,234.85 L130.00,235.00 L132.50,235.14 L135.00,235.26 L137.50,235.38 L140.00,235.49 L142.50,235.60 L145.00,235.70 L147.50,235.80 L150.00,235.90 L152.53,236.00 L155.12,236.10 L157.72,236.19 L160.31,236.28 L162.87,236.37 L165.35,236.45 L167.74,236.53 L170.00,236.60 L172.11,236.66 L174.09,236.72 L175.97,236.77 L177.78,236.82 L179.56,236.86 L181.33,236.91 L183.14,236.95 L185.00,237.00 L187.02,237.05 L189.20,237.11 L191.46,237.17 L193.69,237.22 L195.80,237.28 L197.70,237.33 L199.30,237.37 L200.50,237.40" fill="none" stroke="#ff0000" stroke-width="1.9" stroke-linejoin="round" stroke-linecap="butt"/>
<rect x="52.4" y="160.0" width="148.20" height="97.90" fill="none" stroke="#000" stroke-width="1.25"/>
<line x1="52.40" y1="245.80" x2="58.60" y2="245.80" stroke="#000" stroke-width="1" />
<line x1="194.40" y1="245.80" x2="200.60" y2="245.80" stroke="#000" stroke-width="1" />
<text x="44.30" y="250.60" text-anchor="end" fill="#000" font-size="13.8px" style="font-family:'Liberation Sans'" >0</text>
<line x1="52.40" y1="214.30" x2="58.60" y2="214.30" stroke="#000" stroke-width="1" />
<line x1="194.40" y1="214.30" x2="200.60" y2="214.30" stroke="#000" stroke-width="1" />
<text x="44.30" y="219.10" text-anchor="end" fill="#000" font-size="13.8px" style="font-family:'Liberation Sans'" >150</text>
<line x1="52.40" y1="182.80" x2="58.60" y2="182.80" stroke="#000" stroke-width="1" />
<line x1="194.40" y1="182.80" x2="200.60" y2="182.80" stroke="#000" stroke-width="1" />
<text x="44.30" y="187.60" text-anchor="end" fill="#000" font-size="13.8px" style="font-family:'Liberation Sans'" >300</text>
<line x1="57.60" y1="257.90" x2="57.60" y2="252.00" stroke="#000" stroke-width="1" />
<line x1="57.60" y1="160.00" x2="57.60" y2="165.90" stroke="#000" stroke-width="1" />
<text x="59.60" y="276.50" text-anchor="middle" fill="#000" font-size="13.8px" style="font-family:'Liberation Sans'" >25</text>
<line x1="122.45" y1="257.90" x2="122.45" y2="252.00" stroke="#000" stroke-width="1" />
<line x1="122.45" y1="160.00" x2="122.45" y2="165.90" stroke="#000" stroke-width="1" />
<text x="124.45" y="276.50" text-anchor="middle" fill="#000" font-size="13.8px" style="font-family:'Liberation Sans'" >50</text>
<line x1="187.30" y1="257.90" x2="187.30" y2="252.00" stroke="#000" stroke-width="1" />
<line x1="187.30" y1="160.00" x2="187.30" y2="165.90" stroke="#000" stroke-width="1" />
<text x="189.30" y="276.50" text-anchor="middle" fill="#000" font-size="13.8px" style="font-family:'Liberation Sans'" >75</text>
<text x="124.60" y="291.10" text-anchor="start" fill="#000" font-size="13.8px" style="font-family:'Liberation Sans'" >t</text>
<text x="70.50" y="250.20" text-anchor="start" fill="#ff1010" font-size="13.8px" style="font-family:'Liberation Sans'" >U=4</text>
<text x="96.50" y="232.20" text-anchor="start" fill="#18e818" font-size="13.8px" style="font-family:'Liberation Sans'" >U=4.2</text>
<text x="148.80" y="218.90" text-anchor="start" fill="#1818f0" font-size="13.8px" style="font-family:'Liberation Sans'" >U=4.3</text>
<text x="156.50" y="187.70" text-anchor="start" fill="#ff80ff" font-size="13.8px" style="font-family:'Liberation Sans'" >U=4.4</text>
<text x="149.20" y="252.20" text-anchor="start" fill="#000" font-size="19px" style="font-family:'Liberation Serif'" font-weight="bold">b)</text>
<g transform="translate(10.9,218.9) rotate(-90)"><text x="0" y="0" font-size="14px" fill="#000" transform="scale(1.2,1)" style="font-family:'Liberation Serif'">τ</text><text x="6.6" y="5.3" font-size="10.8px" fill="#000" style="font-family:'Liberation Sans'">ne</text></g>
<line x1="255.70" y1="254.30" x2="409.00" y2="175.00" stroke="#ffae33" stroke-width="1.0" stroke-dasharray="4 1.9"/>
<line x1="255.70" y1="254.30" x2="409.00" y2="185.70" stroke="#ffae33" stroke-width="1.0" stroke-dasharray="4 1.9"/>
<line x1="255.70" y1="254.30" x2="409.00" y2="197.00" stroke="#ffae33" stroke-width="1.0" stroke-dasharray="4 1.9"/>
<circle cx="282.60" cy="243.70" r="3.1" fill="none" stroke="#ff0000" stroke-width="1.15"/>
<circle cx="282.60" cy="243.70" r="0.6" fill="#ff0000"/>
<path d="M283.05,241.90 L289.55,241.90 L286.30,237.00 Z" fill="none" stroke="#ff0000" stroke-width="1.15"/>
<circle cx="286.30" cy="240.30" r="0.6" fill="#ff0000"/>
<rect x="284.05" y="233.45" width="6.1" height="6.1" fill="none" stroke="#ff0000" stroke-width="1.15"/>
<circle cx="287.10" cy="236.50" r="0.6" fill="#ff0000"/>
<circle cx="317.70" cy="232.05" r="3.1" fill="none" stroke="#18e018" stroke-width="1.15"/>
<circle cx="317.70" cy="232.05" r="0.6" fill="#18e018"/>
<path d="M321.85,226.10 L328.35,226.10 L325.10,221.20 Z" fill="none" stroke="#18e018" stroke-width="1.15"/>
<circle cx="325.10" cy="224.50" r="0.6" fill="#18e018"/>
<rect x="327.70" y="213.70" width="6.1" height="6.1" fill="none" stroke="#18e018" stroke-width="1.15"/>
<circle cx="330.75" cy="216.75" r="0.6" fill="#18e018"/>
<circle cx="359.70" cy="216.60" r="3.1" fill="none" stroke="#3b5fe0" stroke-width="1.15"/>
<circle cx="359.70" cy="216.60" r="0.6" fill="#3b5fe0"/>
<path d="M371.55,203.50 L378.05,203.50 L374.80,198.60 Z" fill="none" stroke="#3b5fe0" stroke-width="1.15"/>
<circle cx="374.80" cy="201.90" r="0.6" fill="#3b5fe0"/>
<rect x="383.45" y="184.15" width="6.1" height="6.1" fill="none" stroke="#3b5fe0" stroke-width="1.15"/>
<circle cx="386.50" cy="187.20" r="0.6" fill="#3b5fe0"/>
<rect x="255.7" y="160.2" width="153.30" height="97.70" fill="none" stroke="#000" stroke-width="1.25"/>
<line x1="255.70" y1="253.40" x2="261.90" y2="253.40" stroke="#000" stroke-width="1" />
<line x1="402.80" y1="253.40" x2="409.00" y2="253.40" stroke="#000" stroke-width="1" />
<text x="247.40" y="258.00" text-anchor="end" fill="#000" font-size="13.8px" style="font-family:'Liberation Sans'" >20</text>
<line x1="255.70" y1="221.70" x2="261.90" y2="221.70" stroke="#000" stroke-width="1" />
<line x1="402.80" y1="221.70" x2="409.00" y2="221.70" stroke="#000" stroke-width="1" />
<text x="247.40" y="226.30" text-anchor="end" fill="#000" font-size="13.8px" style="font-family:'Liberation Sans'" >40</text>
<line x1="255.70" y1="190.30" x2="261.90" y2="190.30" stroke="#000" stroke-width="1" />
<line x1="402.80" y1="190.30" x2="409.00" y2="190.30" stroke="#000" stroke-width="1" />
<text x="247.40" y="194.90" text-anchor="end" fill="#000" font-size="13.8px" style="font-family:'Liberation Sans'" >60</text>
<line x1="276.80" y1="257.90" x2="276.80" y2="252.00" stroke="#000" stroke-width="1" />
<line x1="276.80" y1="160.20" x2="276.80" y2="166.10" stroke="#000" stroke-width="1" />
<text x="278.80" y="276.50" text-anchor="middle" fill="#000" font-size="13.8px" style="font-family:'Liberation Sans'" >50</text>
<line x1="311.67" y1="257.90" x2="311.67" y2="252.00" stroke="#000" stroke-width="1" />
<line x1="311.67" y1="160.20" x2="311.67" y2="166.10" stroke="#000" stroke-width="1" />
<text x="313.67" y="276.50" text-anchor="middle" fill="#000" font-size="13.8px" style="font-family:'Liberation Sans'" >100</text>
<line x1="346.53" y1="257.90" x2="346.53" y2="252.00" stroke="#000" stroke-width="1" />
<line x1="346.53" y1="160.20" x2="346.53" y2="166.10" stroke="#000" stroke-width="1" />
<text x="348.53" y="276.50" text-anchor="middle" fill="#000" font-size="13.8px" style="font-family:'Liberation Sans'" >150</text>
<line x1="381.39" y1="257.90" x2="381.39" y2="252.00" stroke="#000" stroke-width="1" />
<line x1="381.39" y1="160.20" x2="381.39" y2="166.10" stroke="#000" stroke-width="1" />
<text x="383.39" y="276.50" text-anchor="middle" fill="#000" font-size="13.8px" style="font-family:'Liberation Sans'" >200</text>
<rect x="270.25" y="174.25" width="6.1" height="6.1" fill="none" stroke="#000" stroke-width="1.15"/>
<circle cx="273.30" cy="177.30" r="0.6" fill="#000"/>
<path d="M270.05,200.00 L276.55,200.00 L273.30,195.10 Z" fill="none" stroke="#000" stroke-width="1.15"/>
<circle cx="273.30" cy="198.40" r="0.6" fill="#000"/>
<circle cx="273.30" cy="218.50" r="3.1" fill="none" stroke="#000" stroke-width="1.15"/>
<circle cx="273.30" cy="218.50" r="0.6" fill="#000"/>
<text x="280.2" y="178.7" font-size="13.8px" fill="#000"><tspan style="font-family:'Liberation Serif'" font-size="14.5px">λ</tspan><tspan style="font-family:'Liberation Sans'">=0.5</tspan></text>
<text x="280.2" y="199.1" font-size="13.8px" fill="#000"><tspan style="font-family:'Liberation Serif'" font-size="14.5px">λ</tspan><tspan style="font-family:'Liberation Sans'">=0.6</tspan></text>
<text x="280.2" y="219.5" font-size="13.8px" fill="#000"><tspan style="font-family:'Liberation Serif'" font-size="14.5px">λ</tspan><tspan style="font-family:'Liberation Sans'">=0.75</tspan></text>
<text x="367.40" y="243.50" text-anchor="start" fill="#000" font-size="19px" style="font-family:'Liberation Serif'" font-weight="bold">c)</text>
<g transform="translate(319.9,288.6)"><text x="0" y="0" font-size="14px" fill="#000" transform="scale(1.15,1)" style="font-family:'Liberation Serif'">τ</text><text x="5.7" y="5.3" font-size="11px" fill="#000" style="font-family:'Liberation Sans'">max</text></g>
<g transform="translate(222.8,221.8) rotate(-90)"><text x="0" y="0" font-size="13.8px" fill="#000" style="font-family:'Liberation Sans'">t<tspan dy="5.3" font-size="11px">max</tspan></text></g>
</svg>
</body></html>
